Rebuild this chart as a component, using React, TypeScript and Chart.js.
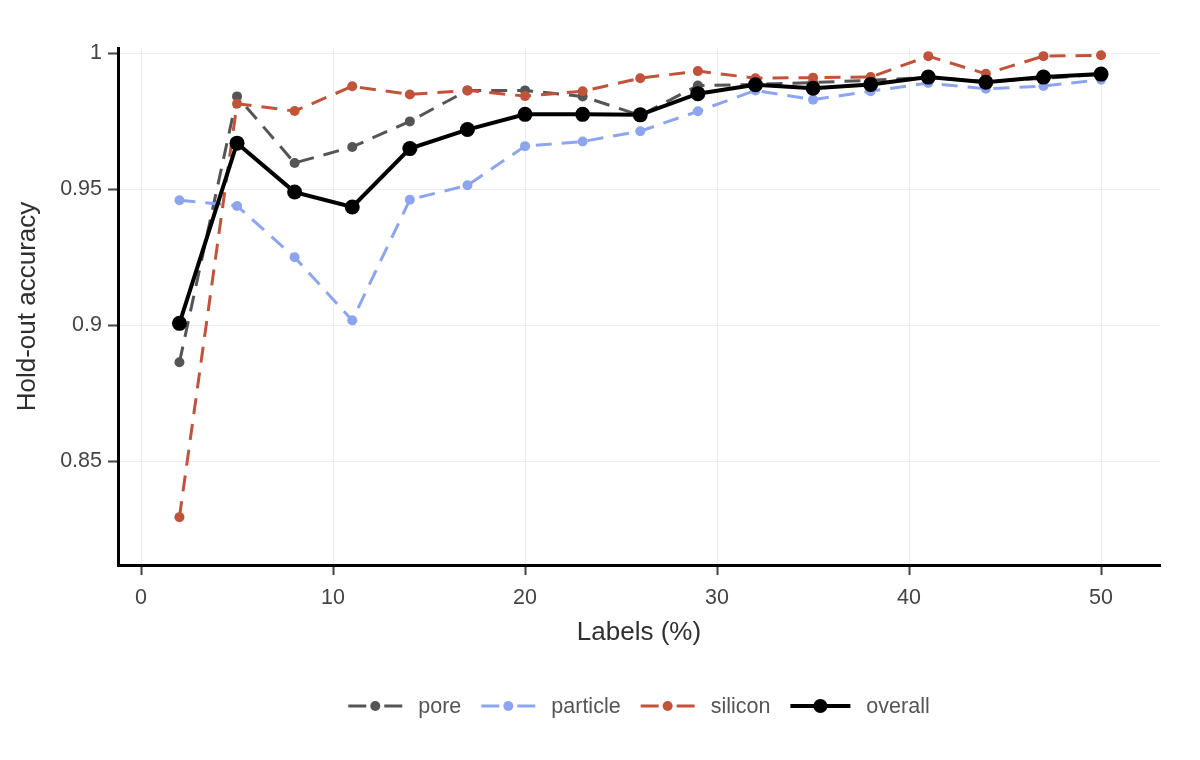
import { useEffect, useRef } from "react";
import { Chart, registerables } from "chart.js";

Chart.register(...registerables);

const labelsPct = [2, 5, 8, 11, 14, 17, 20, 23, 26, 29, 32, 35, 38, 41, 44, 47, 50];

const pore = [
  0.8864, 0.9842, 0.9597, 0.9656, 0.975, 0.9864, 0.9864, 0.9842, 0.9772, 0.9882, 0.9886, 0.9893,
  0.9901, 0.9912, 0.9897, 0.9908, 0.9923,
];
const particle = [
  0.946, 0.9439, 0.925, 0.9018, 0.9462, 0.9515, 0.9659, 0.9676, 0.9714, 0.9787, 0.9864, 0.983,
  0.9861, 0.9891, 0.987, 0.988, 0.9903,
];
const silicon = [
  0.8294, 0.9815, 0.9788, 0.9879, 0.9849, 0.9864, 0.9843, 0.9861, 0.9909, 0.9935, 0.9909, 0.9911,
  0.9913, 0.999, 0.9925, 0.999, 0.9993,
];
const overall = [
  0.9007, 0.967, 0.949, 0.9435, 0.965, 0.972, 0.9776, 0.9776, 0.9774, 0.9852, 0.9885, 0.9872,
  0.9886, 0.9913, 0.9894, 0.9913, 0.9924,
];

const xTicks = [0, 10, 20, 30, 40, 50];
const yTicks = [0.85, 0.9, 0.95, 1];

const FONT = "'Liberation Sans', Arial, sans-serif";

const series = [
  { name: "pore", values: pore, color: "#555555", dashed: true },
  { name: "particle", values: particle, color: "#8da5ef", dashed: true },
  { name: "silicon", values: silicon, color: "#c0533a", dashed: true },
  { name: "overall", values: overall, color: "#000000", dashed: false },
];

const legendPlugin = {
  id: "lineLegend",
  afterDraw(chart: Chart) {
    const ctx = chart.ctx;
    ctx.save();
    ctx.font = `21.5px ${FONT}`;
    const items = series.map((s) => ({
      ...s,
      symW: s.dashed ? 54 : 60,
      textW: ctx.measureText(s.name).width,
    }));
    const total =
      items.reduce((acc, it) => acc + it.symW + 16 + it.textW, 0) + 20 * (items.length - 1);
    let x = 639 - total / 2;
    const y = 706;
    for (const it of items) {
      ctx.strokeStyle = it.color;
      ctx.fillStyle = it.color;
      ctx.setLineDash([]);
      if (it.dashed) {
        ctx.lineWidth = 3;
        ctx.beginPath();
        ctx.moveTo(x, y);
        ctx.lineTo(x + 18, y);
        ctx.moveTo(x + 36, y);
        ctx.lineTo(x + 54, y);
        ctx.stroke();
        ctx.beginPath();
        ctx.arc(x + 27, y, 5, 0, Math.PI * 2);
        ctx.fill();
      } else {
        ctx.lineWidth = 4;
        ctx.beginPath();
        ctx.moveTo(x, y);
        ctx.lineTo(x + 60, y);
        ctx.stroke();
        ctx.beginPath();
        ctx.arc(x + 30, y, 7, 0, Math.PI * 2);
        ctx.fill();
      }
      x += it.symW + 16;
      ctx.fillStyle = "#555555";
      ctx.textAlign = "left";
      ctx.textBaseline = "middle";
      ctx.fillText(it.name, x, y + 1);
      x += it.textW + 20;
    }
    ctx.restore();
  },
};

export default function App() {
  const canvasRef = useRef<HTMLCanvasElement | null>(null);

  useEffect(() => {
    if (!canvasRef.current) return;
    const orders = [3, 2, 1, 0];
    const chart = new Chart(canvasRef.current, {
      type: "line",
      data: {
        datasets: series.map((s, i) => ({
          label: s.name,
          data: s.values.map((v, j) => ({ x: labelsPct[j], y: v })),
          borderColor: s.color,
          backgroundColor: s.color,
          borderWidth: s.dashed ? 3 : 4,
          borderDash: s.dashed ? [16, 10] : [],
          pointRadius: s.dashed ? 5 : 7.5,
          pointBorderWidth: 0,
          pointBackgroundColor: s.color,
          tension: 0,
          fill: false,
          order: orders[i],
        })),
      },
      options: {
        animation: false,
        responsive: true,
        maintainAspectRatio: false,
        layout: { padding: { left: 0, right: 40, top: 48, bottom: 85 } },
        plugins: {
          legend: { display: false },
          tooltip: { enabled: false },
        },
        scales: {
          x: {
            type: "linear",
            min: -1.2,
            max: 53.07,
            afterBuildTicks: (scale) => {
              scale.ticks = xTicks.map((v) => ({ value: v }));
            },
            afterFit: (scale) => {
              scale.height = 110;
            },
            grid: {
              color: "#ececec",
              lineWidth: 1,
              drawTicks: true,
              tickLength: 10,
              tickColor: "#444444",
              tickWidth: 2,
            },
            border: { display: true, color: "#000000", width: 3 },
            ticks: {
              color: "#444444",
              font: { family: FONT, size: 21.5 },
              padding: 10,
              maxRotation: 0,
            },
            title: {
              display: true,
              text: "Labels (%)",
              color: "#2f2f2f",
              font: { family: FONT, size: 26 },
              padding: { top: 0, bottom: 27 },
            },
          },
          y: {
            type: "linear",
            min: 0.8118,
            max: 1.002,
            afterBuildTicks: (scale) => {
              scale.ticks = yTicks.map((v) => ({ value: v }));
            },
            afterFit: (scale) => {
              scale.width = 118;
            },
            grid: {
              color: "#ececec",
              lineWidth: 1,
              drawTicks: true,
              tickLength: 10,
              tickColor: "#444444",
              tickWidth: 2,
            },
            border: { display: true, color: "#000000", width: 3 },
            ticks: {
              color: "#444444",
              font: { family: FONT, size: 21.5 },
              padding: 6,
              callback: (value) => String(Number(value)),
            },
            title: {
              display: true,
              text: "Hold-out accuracy",
              color: "#2f2f2f",
              font: { family: FONT, size: 26 },
              padding: { top: 12, bottom: 0 },
            },
          },
        },
      },
      plugins: [legendPlugin],
    });
    return () => chart.destroy();
  }, []);

  return (
    <div
      style={{
        position: "absolute",
        left: 0,
        top: 0,
        width: 1200,
        height: 760,
        background: "#ffffff",
      }}
    >
      <canvas ref={canvasRef} />
    </div>
  );
}
